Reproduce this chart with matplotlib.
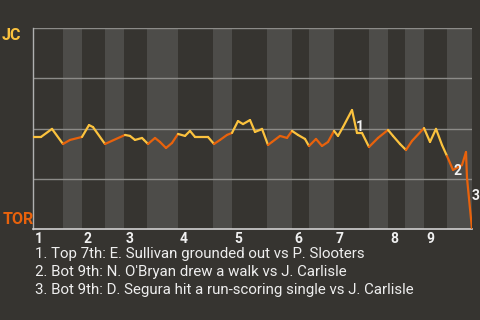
import matplotlib
matplotlib.use("Agg")
import matplotlib.pyplot as plt

plt.rcParams['font.family'] = ['Roboto', 'DejaVu Sans']

# game progress (event axis) and JC win probability (%)
progress = [0, 8, 19, 30, 37, 49, 56, 60, 72, 92, 97, 102, 109, 111, 115, 122, 127, 133,
            139, 145, 152, 157, 162, 175, 181, 187, 194, 199, 205, 210, 217, 222, 227, 229,
            235, 239, 247, 254, 259, 265, 272, 276, 283, 289, 295, 301, 305, 310, 319, 324,
            329, 336, 345, 355, 360, 367, 373, 379, 391, 397, 403, 409, 414, 420, 429, 433,
            434, 439]
jc_wp = [45.8, 45.8, 49.8, 42.3, 44.3, 45.8, 51.7, 50.7, 42.3, 46.8, 46.3, 44.3, 45.3, 44.3,
         42.3, 45.3, 43.3, 40.3, 42.8, 47.3, 46.3, 48.8, 45.8, 45.8, 42.3, 44.3, 46.8, 47.8,
         53.7, 52.2, 54.2, 48.3, 49.3, 49.8, 41.8, 43.3, 46.3, 45.3, 48.8, 46.8, 44.8, 41.3,
         44.8, 41.3, 43.3, 48.8, 46.3, 50.7, 59.2, 47.8, 47.8, 40.8, 45.3, 49.3, 46.3, 42.3,
         39.3, 43.8, 50.2, 43.3, 49.8, 41.8, 36.3, 29.4, 31.8, 38.3, 25.4, 0.0]

# start of each half inning (top 1st, bot 1st, top 2nd, ...)
half_starts = [0, 30, 49, 72, 91, 114, 145, 180, 199, 234, 259, 276, 301, 336, 355, 372, 391, 414]
game_end = 439
innings = ['1', '2', '3', '4', '5', '6', '7', '8', '9']

# key plays
note_labels = ['1', '2', '3']
note_x = [327, 424, 443]
note_y = [50.7, 28.9, 16.4]
notes = ["1. Top 7th: E. Sullivan grounded out vs P. Slooters",
         "2. Bot 9th: N. O'Bryan drew a walk vs J. Carlisle",
         "3. Bot 9th: D. Segura hit a run-scoring single vs J. Carlisle"]

bg = '#363430'
band = '#4d4c49'
yellow = '#fbc23e'
orange = '#e8620c'

fig = plt.figure(figsize=(4.8, 3.2), dpi=100, facecolor=bg)
ax = fig.add_axes([33 / 480, 1 - 229 / 320, 439 / 480, 201 / 320])
ax.set_facecolor(bg)

ends = half_starts[1:] + [game_end]
for i, (a, b) in enumerate(zip(half_starts, ends)):
    if i % 2 == 1:
        ax.axvspan(a, b, color=band, lw=0, zorder=0)

for yv in [25, 50, 75, 100]:
    ax.axhline(yv, color='#8c8b88', lw=1, zorder=1)

# colour each segment by the half inning it belongs to
for i in range(len(progress) - 1):
    mid = (progress[i] + progress[i + 1]) / 2
    half = sum(1 for s in half_starts if s <= mid) - 1
    c = yellow if half % 2 == 0 else orange
    ax.plot(progress[i:i + 2], jc_wp[i:i + 2], color=c, lw=1.6,
            solid_capstyle='round', zorder=3)

for lab, x, y in zip(note_labels, note_x, note_y):
    ax.text(x, y, lab, color='#f2f2f2', fontsize=10, fontweight='bold',
            ha='center', va='center', zorder=4, clip_on=False)

for k, inn in enumerate(innings):
    ax.text(half_starts[2 * k] + 2, -0.015, inn, transform=ax.get_xaxis_transform(),
            color='#f0f0f0', fontsize=10, fontweight='bold', ha='left', va='top')

ax.set_xlim(0, game_end)
ax.set_ylim(0, 100)
ax.set_xticks([])
ax.set_yticks([])
for side in ['top', 'right']:
    ax.spines[side].set_visible(False)
ax.spines['left'].set_color('#b0b0b0')
ax.spines['bottom'].set_color('#d0d0d0')
ax.spines['left'].set_linewidth(1)
ax.spines['bottom'].set_linewidth(1.2)

fig.text(2 / 480, 1 - 35 / 320, 'JC', color=yellow, fontsize=11.5, fontweight='bold',
         ha='left', va='center')
fig.text(3 / 480, 1 - 219.5 / 320, 'TOR', color=orange, fontsize=11.5, fontweight='bold',
         ha='left', va='center')

for j, line in enumerate(notes):
    fig.text(35 / 480, 1 - (258 + 18 * j) / 320, line, color='#eeeeee', fontsize=10.8,
             ha='left', va='baseline')

fig.savefig('out.png', dpi=100, facecolor=bg)
